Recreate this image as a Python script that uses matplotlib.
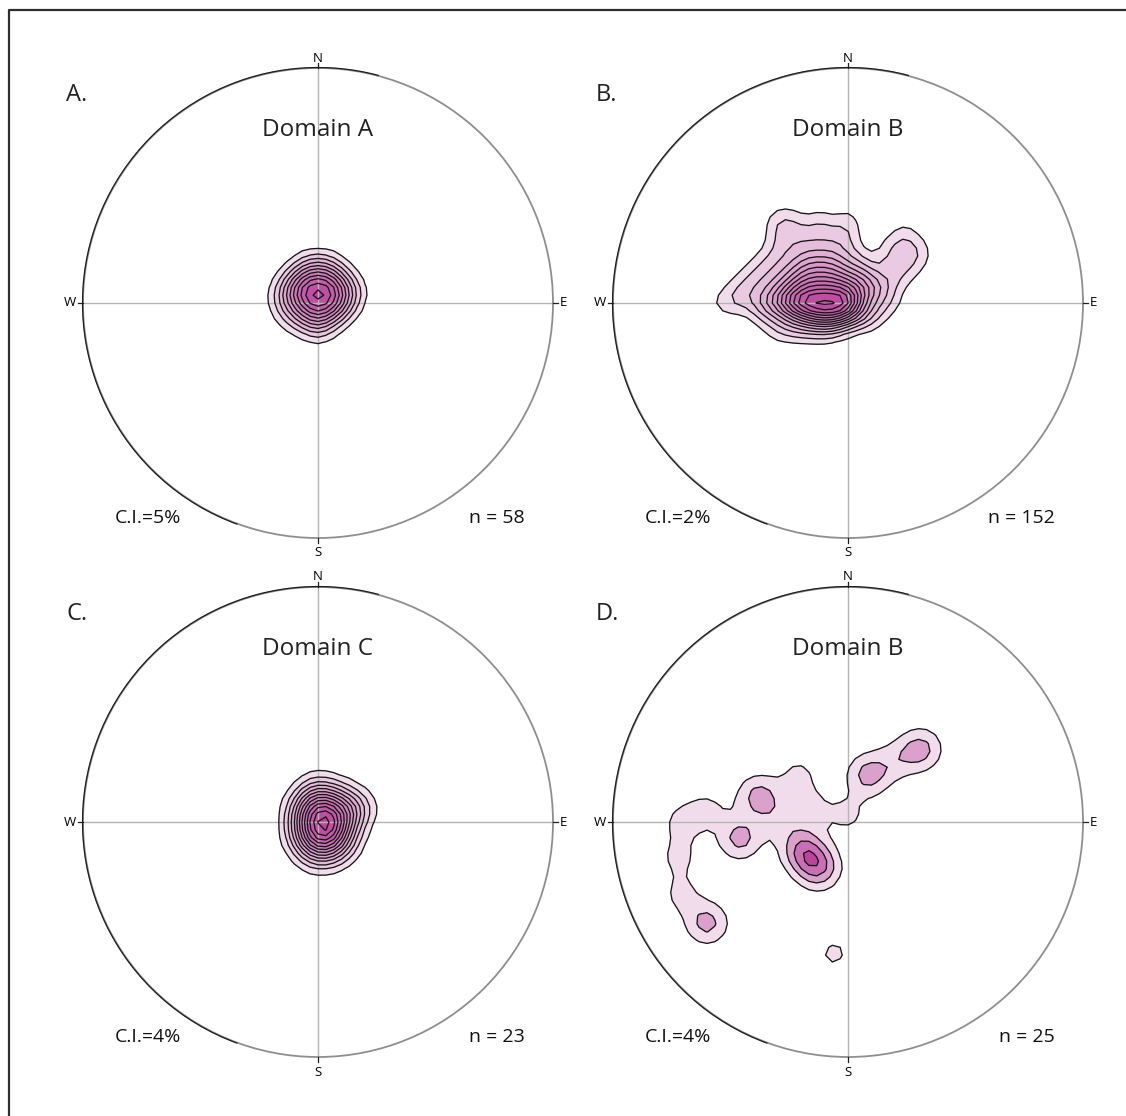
import numpy as np
import matplotlib.pyplot as plt
from matplotlib.colors import LinearSegmentedColormap
from matplotlib.patches import Circle, Arc
from matplotlib.lines import Line2D

# Poles on the lower-hemisphere equal-area net (unit radius), east / north.
# Domains A and B are binned into counting cells, C and D are listed pole by pole.
a_cell_east = [-0.15, -0.10, -0.05, 0.00, 0.05, 0.10, 0.15]
a_cell_north = [0.17, 0.12, 0.07, 0.02, -0.03, -0.08, -0.13]
a_cell_counts = [
    [0, 0, 1, 1, 1, 0, 0],
    [0, 1, 2, 2, 2, 1, 0],
    [1, 2, 3, 3, 3, 2, 1],
    [1, 2, 3, 3, 3, 2, 1],
    [1, 1, 2, 3, 2, 2, 0],
    [0, 1, 1, 2, 1, 0, 0],
    [0, 0, 0, 1, 0, 0, 0],
]

b_cell_east = [-0.54, -0.48, -0.42, -0.36, -0.30, -0.24, -0.18, -0.12, -0.06,
               0.00, 0.06, 0.12, 0.18, 0.24, 0.30]
b_cell_north = [0.36, 0.30, 0.24, 0.18, 0.12, 0.06, 0.00, -0.06, -0.12]
b_cell_counts = [
    [0, 0, 0, 0, 1, 1, 0, 1, 0, 1, 0, 0, 0, 0, 0],
    [0, 0, 0, 0, 1, 1, 1, 1, 1, 1, 0, 0, 0, 1, 0],
    [0, 0, 0, 0, 1, 1, 1, 1, 1, 1, 0, 0, 1, 1, 1],
    [0, 0, 0, 1, 1, 1, 2, 2, 2, 1, 1, 0, 1, 1, 1],
    [0, 0, 1, 1, 1, 2, 3, 3, 3, 2, 2, 1, 1, 1, 0],
    [0, 1, 1, 1, 2, 3, 4, 4, 4, 4, 3, 2, 1, 0, 0],
    [1, 1, 1, 2, 3, 5, 6, 6, 6, 6, 2, 1, 1, 0, 0],
    [0, 0, 0, 1, 1, 2, 3, 4, 4, 3, 2, 1, 0, 0, 0],
    [0, 0, 0, 0, 1, 1, 1, 1, 1, 0, 0, 0, 0, 0, 0],
]

c_east = [0.025, 0.025, 0.06, -0.01, -0.01, 0.02, 0.02, -0.045, 0.10, -0.035,
          -0.035, 0.055, 0.055, 0.135, 0.17, 0.08, -0.07, -0.07, 0.045, -0.015,
          -0.01, 0.11, 0.09]
c_north = [0.00, 0.00, 0.00, 0.045, -0.045, 0.08, -0.08, 0.00, 0.02, 0.08,
           -0.08, 0.055, -0.045, 0.045, 0.065, 0.11, 0.045, -0.055, -0.12, -0.135,
           0.135, -0.055, -0.10]

d_east = [-0.196, -0.196, -0.12, -0.12, -0.16, -0.16, -0.21,
          -0.38, -0.38, -0.29, -0.46, -0.46, -0.60, -0.71, -0.72,
          -0.60, -0.60, -0.71, 0.085, 0.085, 0.00, 0.31, 0.31, 0.20, -0.06]
d_north = [-0.115, -0.115, -0.20, -0.20, -0.16, 0.06, 0.20,
           0.11, 0.11, 0.01, -0.07, -0.07, 0.05, 0.00, -0.15,
           -0.43, -0.43, -0.31, 0.20, 0.20, 0.03, 0.31, 0.31, 0.26, -0.56]

letters = ["A.", "B.", "C.", "D."]
titles = ["Domain A", "Domain B", "Domain C", "Domain B"]
contour_interval = [5, 2, 4, 4]

# layout in pixels: centre of each net and its radius
W, H, R = 1126, 1116, 235
centres = [(318, 303), (848, 303), (318, 822), (848, 822)]
smoothing = [0.05, 0.045, 0.06, 0.065]
HALF = 265 / R

cmap = LinearSegmentedColormap.from_list(
    "pinks", ["#f1dcec", "#e3b9d8", "#d793c6", "#c96bb3", "#bd449c"])


def cells_to_poles(east, north, counts):
    xs, ys, cs = [], [], []
    for row, n in zip(counts, north):
        for c, e in zip(row, east):
            if c:
                xs.append(e)
                ys.append(n)
                cs.append(c)
    return xs, ys, cs


def pole_density(east, north, count, sigma, gx, gy):
    """Percent of poles per 1% of net area, gaussian-smoothed."""
    dens = np.zeros_like(gx)
    for e, n, c in zip(east, north, count):
        dens += c * np.exp(-((gx - e) ** 2 + (gy - n) ** 2) / (2 * sigma ** 2))
    return dens / (2 * sigma ** 2 * sum(count))


data = [
    cells_to_poles(a_cell_east, a_cell_north, a_cell_counts),
    cells_to_poles(b_cell_east, b_cell_north, b_cell_counts),
    (c_east, c_north, [1] * len(c_east)),
    (d_east, d_north, [1] * len(d_east)),
]

fig = plt.figure(figsize=(W / 100, H / 100), dpi=100)
plt.rcParams["font.family"] = ["Open Sans", "DejaVu Sans"]

# outer frame (top and left edges)
fig.add_artist(Line2D([9 / W, 9 / W, 1.0], [0.0, 1 - 10 / H, 1 - 10 / H],
                      transform=fig.transFigure, color="#2e2e2e", lw=1.6))

grid = np.linspace(-1, 1, 61)
gx, gy = np.meshgrid(grid, grid)

for i, (east, north, count) in enumerate(data):
    cx, cy = centres[i]
    ax = fig.add_axes([(cx - 265) / W, (H - cy - 265) / H, 530 / W, 530 / H])
    ax.set_xlim(-HALF, HALF)
    ax.set_ylim(-HALF, HALF)
    ax.set_aspect("equal")
    ax.axis("off")

    ci = contour_interval[i]
    dens = pole_density(east, north, count, smoothing[i], gx, gy)
    dens[gx ** 2 + gy ** 2 > 1] = 0
    top = int(dens.max() // ci)
    levels = ci * np.arange(1, top + 2)
    colors = [cmap((k / max(top - 1, 1)) ** 0.8) for k in range(top)]
    clip = Circle((0, 0), 1, transform=ax.transData)
    cf = ax.contourf(gx, gy, dens, levels=levels, colors=colors, zorder=1)
    cl = ax.contour(gx, gy, dens, levels=levels[:-1], colors="#161616",
                    linewidths=0.95, zorder=3)
    cf.set_clip_path(clip)
    cl.set_clip_path(clip)

    # cross hairs
    ax.plot([-1, 1], [0, 0], color="#b4b4b4", lw=1.0, zorder=2)
    ax.plot([0, 0], [-1, 1], color="#b4b4b4", lw=1.0, zorder=2)

    # primitive circle
    ax.add_patch(Circle((0, 0), 1, fill=False, ec="#8e8e8e", lw=1.3, zorder=4))
    ax.add_patch(Arc((0, 0), 2.004, 2.004, theta1=75, theta2=250,
                     ec="#1e1e1e", lw=0.9, zorder=4))

    # compass ticks and labels
    t = 0.022
    for (x0, y0, x1, y1) in [(0, 1, 0, 1 + t), (0, -1, 0, -1 - t),
                             (-1, 0, -1 - t, 0), (1, 0, 1 + t, 0)]:
        ax.plot([x0, x1], [y0, y1], color="#222222", lw=0.9, zorder=4)
    ax.text(0, 245 / R, "N", ha="center", va="center", fontsize=9.5)
    ax.text(0, -250 / R, "S", ha="center", va="center", fontsize=9.5)
    ax.text(-248 / R, 0, "W", ha="center", va="center", fontsize=9.5)
    ax.text(245 / R, 0, "E", ha="center", va="center", fontsize=9.5)

    ax.text(-252 / R, 208 / R, letters[i], ha="left", va="center",
            fontsize=17, color="#222222")
    ax.text(0, 173 / R, titles[i], ha="center", va="center",
            fontsize=17.5, color="#222222")
    ax.text(-203 / R, -215 / R, f"C.I.={ci}%", ha="left", va="center",
            fontsize=14, color="#111111")
    ax.text(207 / R, -215 / R, f"n = {sum(count)}", ha="right", va="center",
            fontsize=14, color="#111111")

fig.savefig("out.png", dpi=100)
